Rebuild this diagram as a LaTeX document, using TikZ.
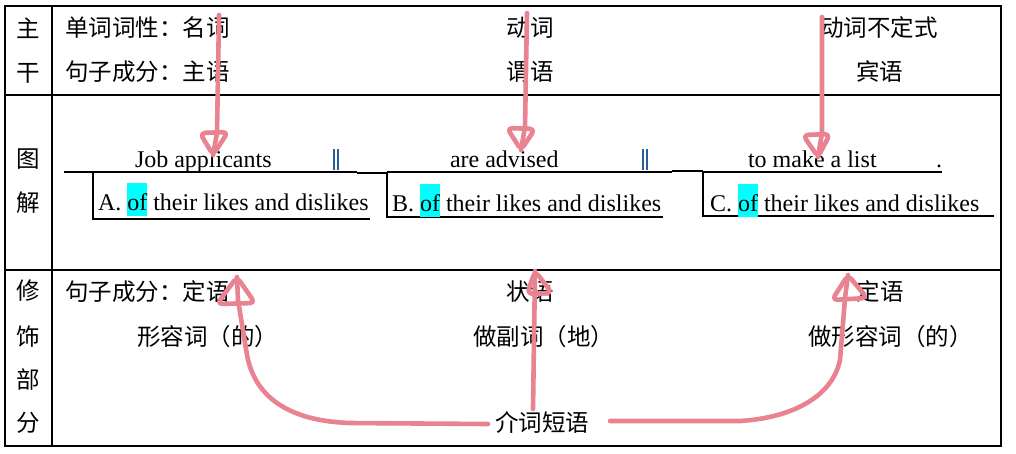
\documentclass[tikz,border=0pt]{standalone}
\usepackage{fontspec}
\setmainfont{Liberation Serif}
\newfontfamily\cjk{Noto Sans CJK SC}
\definecolor{pinkarrow}{RGB}{233,130,145}
\definecolor{hlcyan}{RGB}{0,255,255}
\definecolor{barblue}{RGB}{45,95,150}
\newcommand\ofmark[1]{{\setlength{\fboxsep}{0pt}\colorbox{hlcyan}{\rule[-6pt]{0pt}{33pt}#1}}}
\begin{document}
\begin{tikzpicture}[x=1pt,y=-1pt,
  en/.style={inner sep=0pt, outer sep=0pt, font=\fontsize{24}{28}\selectfont},
  zh/.style={inner sep=0pt, outer sep=0pt, font=\fontsize{23.5}{28}\selectfont\cjk},
  grid/.style={draw=black, line width=1.2pt},
  mainline/.style={draw=black, line width=1.3pt},
  subline/.style={draw=black, line width=1.9pt},
  bar/.style={draw=barblue, line width=1.1pt},
  pinkpen/.style={draw=pinkarrow, line width=4.6pt, line cap=round, line join=round},
  headloop/.style={pinkpen, rounded corners=5pt}]
\useasboundingbox (0,0) rectangle (1016,453);
\fill[white] (0,0) rectangle (1016,453);

% table
\draw[grid] (5,6) rectangle (1001,446);
\draw[grid] (52,6) -- (52,446);
\draw[grid] (5,95) -- (1001,95);
\draw[grid] (5,270) -- (1001,270);

% left column labels
\node[zh, anchor=base] (l1) at (28.5,37.5) {主};
\node[zh, anchor=base] (l2) at (28.5,81) {干};
\node[zh, anchor=base] (l3) at (28.5,167) {图};
\node[zh, anchor=base] (l4) at (28.5,211) {解};
\node[zh, anchor=base] (l5) at (28.5,299) {修};
\node[zh, anchor=base] (l6) at (28.5,345) {饰};
\node[zh, anchor=base] (l7) at (28.5,388) {部};
\node[zh, anchor=base] (l8) at (28.5,431) {分};

% row 1
\node[zh, anchor=base west] (r1a) at (65,36) {单词词性：名词};
\node[zh, anchor=base west] (r1b) at (65,80) {句子成分：主语};
\node[zh, anchor=base] (r1c) at (530,36) {动词};
\node[zh, anchor=base] (r1d) at (530,80) {谓语};
\node[zh, anchor=base] (r1e) at (879,36) {动词不定式};
\node[zh, anchor=base] (r1f) at (879.5,80) {宾语};

% row 2 diagram
\draw[mainline] (64,172) -- (357,172);
\draw[subline] (357,173) -- (387,173);
\draw[mainline] (387,172) -- (672,172);
\draw[subline] (672,171) -- (703,171);
\draw[mainline] (703,172) -- (942,172);
\draw[subline] (93,172) -- (93,219) -- (370,219);
\draw[subline] (387,173) -- (387,217) -- (663,217);
\draw[subline] (703,171) -- (703,216) -- (994,216);

\node[en, anchor=base west] (ja) at (135,167) {Job applicants};
\node[en, anchor=base west] (aa) at (450,167) {are advised};
\node[en, anchor=base west] (ml) at (748,167) {to make a list};
\node[en, anchor=base west] (pd) at (936,167) {.};
\draw[bar] (334,149) -- (334,170);
\draw[bar] (338,149) -- (338,170);
\draw[bar] (643,149) -- (643,170);
\draw[bar] (647,149) -- (647,170);

\node[en, anchor=base west] (ma) at (98,210) {A. \ofmark{of} their likes and dislikes};
\node[en, anchor=base west] (mb) at (392,211) {B. \ofmark{of} their likes and dislikes};
\node[en, anchor=base west] (mc) at (710,211) {C. \ofmark{of} their likes and dislikes};

% row 3
\node[zh, anchor=base west] (r3a) at (65,300) {句子成分：定语};
\node[zh, anchor=base west] (r3b) at (137,345) {形容词（的）};
\node[zh, anchor=base] (r3c) at (530,300) {状语};
\node[zh, anchor=base west] (r3d) at (473,345) {做副词（地）};
\node[zh, anchor=base] (r3e) at (880,300) {定语};
\node[zh, anchor=base west] (r3f) at (808,345) {做形容词（的）};
\node[zh, anchor=base] (prep) at (542,431) {介词短语};

% pink arrows (hand drawn)
\coordinate (a1s) at (219,15);
\coordinate (a1t) at (213,155);
\draw[pinkpen] (a1s) -- (217,133) -- (a1t);
\draw[headloop] (a1t) -- (200,133) -- (228,132) -- cycle;

\coordinate (a2s) at (527,13);
\coordinate (a2t) at (521,150);
\draw[pinkpen] (a2s) -- (525,127) -- (a2t);
\draw[headloop] (a2t) -- (507,128) -- (535,129) -- cycle;

\coordinate (a3s) at (822,17);
\coordinate (a3t) at (818,157);
\draw[pinkpen] (a3s) -- (822,133) -- (a3t);
\draw[headloop] (a3t) -- (803,135) -- (830,134) -- cycle;

\coordinate (b1s) at (488,424);
\coordinate (b1t) at (237,277);
\draw[pinkpen] (b1s) -- (350,423) .. controls (290,421) and (255,398) .. (247,355) -- (238,300) -- (b1t);
\draw[headloop] (b1t) -- (255,303) -- (217,304) -- cycle;

\coordinate (b2s) at (533,409);
\coordinate (b2t) at (535,271);
\draw[pinkpen] (b2s) -- (b2t);
\draw[pinkpen, rounded corners=6pt] (b2t) -- (552,293) -- (527,294) -- cycle;

\coordinate (b3s) at (610,421);
\coordinate (b3t) at (848,275);
\draw[pinkpen] (b3s) -- (740,421) .. controls (790,418) and (832,398) .. (840,360) -- (845,298) -- (b3t);
\draw[headloop] (b3t) -- (867,298) -- (832,300) -- cycle;
\end{tikzpicture}
\end{document}
